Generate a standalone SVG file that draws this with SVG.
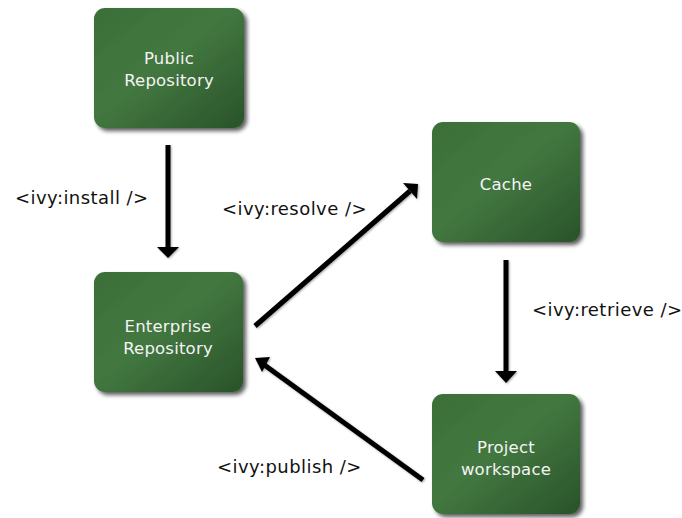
<svg xmlns="http://www.w3.org/2000/svg" width="682" height="518" viewBox="0 0 682 518">
  <defs>
    <linearGradient id="boxFill" x1="0" y1="0" x2="1" y2="1">
      <stop offset="0" stop-color="#3b6f38"/>
      <stop offset="0.45" stop-color="#437840"/>
      <stop offset="1" stop-color="#29532a"/>
    </linearGradient>
    <filter id="boxShadow" x="-10%" y="-10%" width="125%" height="125%">
      <feGaussianBlur in="SourceAlpha" stdDeviation="2"/>
      <feOffset dx="3" dy="3" result="b"/>
      <feComponentTransfer><feFuncA type="linear" slope="0.65"/></feComponentTransfer>
      <feMerge><feMergeNode/><feMergeNode in="SourceGraphic"/></feMerge>
    </filter>
    <filter id="lineShadow" x="-20%" y="-20%" width="140%" height="140%">
      <feGaussianBlur in="SourceAlpha" stdDeviation="1"/>
      <feOffset dx="1" dy="1" result="b"/>
      <feComponentTransfer><feFuncA type="linear" slope="0.35"/></feComponentTransfer>
      <feMerge><feMergeNode/><feMergeNode in="SourceGraphic"/></feMerge>
    </filter>
  </defs>
  <style>
    .box { fill: url(#boxFill); filter: url(#boxShadow); }
    .node-text { font-family: "DejaVu Sans", Verdana, sans-serif; font-size: 16.5px; letter-spacing: 0.2px; fill: #f4f4f4; text-anchor: middle; }
    .edge { stroke: #000; stroke-width: 5; fill: none; }
    .head { fill: #000; }
    .label { font-family: "DejaVu Sans", Verdana, sans-serif; font-size: 18px; fill: #111; letter-spacing: 0.45px; }
  </style>

  <g id="public-repository">
    <rect class="box" x="94" y="8" width="150" height="120" rx="11"/>
    <text class="node-text" x="169" y="64">Public</text>
    <text class="node-text" x="169" y="86">Repository</text>
  </g>

  <g id="enterprise-repository">
    <rect class="box" x="94" y="272" width="149" height="120" rx="11"/>
    <text class="node-text" x="168" y="332">Enterprise</text>
    <text class="node-text" x="168" y="354">Repository</text>
  </g>

  <g id="cache">
    <rect class="box" x="432" y="122" width="148" height="120" rx="11"/>
    <text class="node-text" x="506" y="190">Cache</text>
  </g>

  <g id="project-workspace">
    <rect class="box" x="432" y="394" width="148" height="120" rx="11"/>
    <text class="node-text" x="506" y="453">Project</text>
    <text class="node-text" x="506" y="475">workspace</text>
  </g>

  <g id="connectors" filter="url(#lineShadow)">
    <line class="edge" x1="168" y1="145" x2="168" y2="247"/>
    <path class="head" d="M157,247 L179,247 L168,258 Z"/>

    <line class="edge" x1="506" y1="260" x2="506" y2="371"/>
    <path class="head" d="M495,371 L517,371 L506,383 Z"/>

    <line class="edge" x1="255" y1="326" x2="410" y2="191"/>
    <path class="head" d="M403,183 L418,184 L417,199 Z"/>

    <line class="edge" x1="423" y1="480" x2="263" y2="364"/>
    <path class="head" d="M255,358 L270,357 L262,372 Z"/>
  </g>

  <g id="labels">
    <text class="label" x="15" y="204">&lt;ivy:install /&gt;</text>
    <text class="label" x="222" y="215">&lt;ivy:resolve /&gt;</text>
    <text class="label" x="532" y="316">&lt;ivy:retrieve /&gt;</text>
    <text class="label" x="217" y="473">&lt;ivy:publish /&gt;</text>
  </g>
</svg>
